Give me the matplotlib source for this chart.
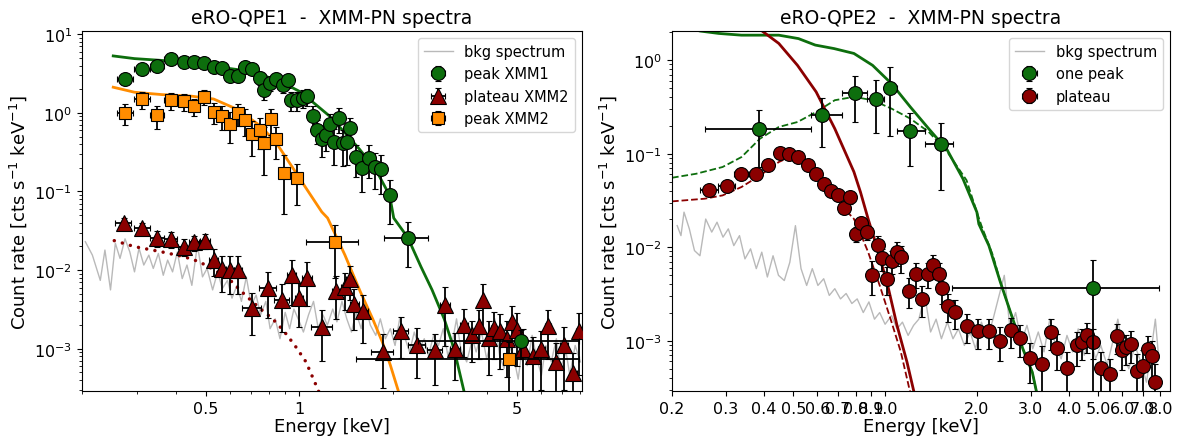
import matplotlib
matplotlib.use("Agg")
import matplotlib.pyplot as plt
from matplotlib.ticker import NullFormatter, FixedLocator, FixedFormatter

# ---------------- eRO-QPE1 (left panel) ----------------
# peak XMM1
e_pk1 = [0.275, 0.312, 0.348, 0.386, 0.424, 0.457, 0.493, 0.530, 0.565, 0.599, 0.634, 0.670,
         0.705, 0.746, 0.772, 0.806, 0.841, 0.885, 0.920, 0.942, 0.982, 1.025, 1.054, 1.109,
         1.141, 1.181, 1.222, 1.257, 1.294, 1.337, 1.380, 1.420, 1.449, 1.515, 1.589, 1.668,
         1.755, 1.833, 1.950, 2.23, 5.15]
r_pk1 = [2.70, 3.61, 3.98, 4.83, 4.43, 4.43, 4.30, 3.83, 3.72, 2.98, 2.98, 3.83,
         3.65, 2.78, 1.94, 2.40, 2.73, 2.29, 2.60, 1.45, 1.45, 1.56, 1.63, 0.91,
         0.607, 0.472, 0.525, 0.716, 0.42, 0.853, 0.412, 0.42, 0.65, 0.272, 0.199, 0.269,
         0.207, 0.193, 0.089, 0.0259, 1.24e-3]
dr_pk1 = [0.3, 0.35, 0.4, 0.45, 0.4, 0.4, 0.4, 0.4, 0.4, 0.4, 0.4, 0.5,
          0.5, 0.5, 0.5, 0.5, 0.5, 0.5, 0.5, 0.4, 0.4, 0.4, 0.4, 0.3,
          0.2, 0.2, 0.2, 0.25, 0.2, 0.3, 0.2, 0.2, 0.22, 0.12, 0.1, 0.12,
          0.1, 0.1, 0.05, 0.015, 5e-4]
de_pk1 = [0.016, 0.018, 0.018, 0.019, 0.018, 0.017, 0.018, 0.018, 0.017, 0.017, 0.018, 0.018,
          0.017, 0.016, 0.014, 0.017, 0.018, 0.018, 0.016, 0.014, 0.02, 0.02, 0.018, 0.022,
          0.018, 0.02, 0.02, 0.02, 0.02, 0.022, 0.022, 0.02, 0.02, 0.035, 0.04, 0.04,
          0.045, 0.04, 0.06, 0.36, 2.75]

# plateau XMM2
e_pl2 = [0.272, 0.312, 0.348, 0.386, 0.424, 0.457, 0.498, 0.530, 0.563, 0.599, 0.636, 0.705,
         0.79, 0.878, 0.944, 0.999, 1.056, 1.18, 1.31, 1.40, 1.449, 1.50, 1.60, 1.85,
         2.12, 2.38, 2.72, 2.94, 3.16, 3.38, 3.58, 3.77, 3.90, 4.06, 4.22, 4.42,
         4.66, 4.83, 5.02, 5.22, 5.62, 6.0, 6.3, 6.66, 7.1, 7.6, 7.9]
r_pl2 = [0.0394, 0.034, 0.0259, 0.0249, 0.0199, 0.0225, 0.0234, 0.0134, 0.0103, 0.0100, 0.0100, 3.3e-3,
         5.94e-3, 4.14e-3, 8.6e-3, 4.4e-3, 8.0e-3, 1.89e-3, 5.4e-3, 6.1e-3, 7.7e-3, 3.75e-3, 3.0e-3, 9.2e-4,
         1.66e-3, 1.12e-3, 9.5e-4, 3.57e-3, 1.0e-3, 1.98e-3, 1.48e-3, 1.95e-3, 4.14e-3, 1.37e-3, 1.84e-3, 1.66e-3,
         1.34e-3, 2.19e-3, 1.71e-3, 1.0e-3, 8.2e-4, 1.0e-3, 1.95e-3, 6.7e-4, 1.1e-3, 4.9e-4, 1.66e-3]
dr_pl2 = [0.006, 0.006, 0.006, 0.006, 0.005, 0.005, 0.005, 0.005, 0.005, 0.005, 0.005, 1.8e-3,
          3.5e-3, 2.5e-3, 5e-3, 2.5e-3, 4.5e-3, 1.2e-3, 3e-3, 3e-3, 3.5e-3, 2e-3, 1.8e-3, 6e-4,
          9e-4, 7e-4, 6e-4, 2.5e-3, 6e-4, 1.2e-3, 8e-4, 1.2e-3, 2.5e-3, 9e-4, 1.1e-3, 1.1e-3,
          9e-4, 1.3e-3, 1.1e-3, 8e-4, 6e-4, 7e-4, 1.2e-3, 5e-4, 8e-4, 4e-4, 1.2e-3]
de_pl2 = [0.016, 0.018, 0.018, 0.019, 0.018, 0.017, 0.018, 0.018, 0.017, 0.017, 0.018, 0.05,
          0.05, 0.05, 0.03, 0.03, 0.04, 0.09, 0.04, 0.04, 0.04, 0.05, 0.06, 0.15,
          0.12, 0.15, 0.15, 0.1, 0.12, 0.1, 0.1, 0.06, 0.06, 0.07, 0.08, 0.1,
          0.08, 0.08, 0.08, 0.1, 0.15, 0.15, 0.15, 0.18, 0.2, 0.2, 0.15]

# peak XMM2
e_pk2 = [0.275, 0.312, 0.348, 0.386, 0.424, 0.457, 0.493, 0.530, 0.565, 0.599, 0.634, 0.670,
         0.705, 0.746, 0.772, 0.813, 0.841, 0.893, 0.982, 1.297, 4.72]
r_pk2 = [1.0, 1.48, 0.93, 1.45, 1.41, 1.22, 1.60, 1.03, 0.91, 0.716, 0.99, 0.81,
         0.535, 0.60, 0.41, 0.83, 0.46, 0.172, 0.147, 0.023, 7.3e-4]
dr_pk2 = [0.3, 0.35, 0.3, 0.35, 0.35, 0.3, 0.35, 0.3, 0.3, 0.3, 0.3, 0.3,
          0.25, 0.25, 0.25, 0.3, 0.2, 0.12, 0.08, 0.015, 5e-4]
de_pk2 = [0.016, 0.018, 0.018, 0.019, 0.018, 0.017, 0.018, 0.018, 0.017, 0.017, 0.018, 0.018,
          0.017, 0.016, 0.014, 0.017, 0.018, 0.025, 0.03, 0.25, 3.2]

# models
m_pk1_e = [0.252, 0.295, 0.36, 0.451, 0.53, 0.634, 0.75, 0.865, 1.0, 1.112, 1.25, 1.40, 1.56,
           1.76, 1.95, 2.01, 2.23, 2.46, 2.67, 2.92, 3.14, 3.38, 3.5]
m_pk1_r = [5.3, 4.9, 4.65, 4.3, 3.9, 3.55, 3.07, 2.52, 1.88, 1.34, 0.91, 0.56, 0.345,
           0.19, 0.089, 0.046, 0.026, 0.011, 5.6e-3, 2.4e-3, 1.0e-3, 2.9e-4, 1.6e-4]
m_pk2_e = [0.252, 0.295, 0.36, 0.451, 0.53, 0.634, 0.75, 0.841, 0.942, 1.054, 1.18, 1.232,
           1.40, 1.57, 1.72, 1.85, 1.96, 2.08, 2.15]
m_pk2_r = [2.12, 1.83, 1.71, 1.63, 1.5, 1.1, 0.68, 0.42, 0.213, 0.108, 0.055, 0.046,
           0.0156, 5.3e-3, 2.4e-3, 1.2e-3, 6.2e-4, 2.9e-4, 1.9e-4]
m_pl2_e = [0.254, 0.295, 0.36, 0.426, 0.476, 0.534, 0.598, 0.670, 0.75, 0.82, 0.889, 0.967,
           1.05, 1.15, 1.18]
m_pl2_r = [0.0237, 0.0199, 0.0171, 0.0148, 0.0128, 0.0100, 7.5e-3, 4.8e-3, 3.2e-3, 2.4e-3, 1.7e-3, 1.1e-3,
           6.8e-4, 2.95e-4, 2.2e-4]

# background
bkg1_e = [0.205, 0.216, 0.229, 0.237, 0.247, 0.256, 0.265, 0.275, 0.285, 0.295, 0.305, 0.316,
          0.328, 0.339, 0.352, 0.365, 0.377, 0.391, 0.405, 0.42, 0.435, 0.451, 0.47, 0.488,
          0.505, 0.526, 0.546, 0.565, 0.587, 0.607, 0.63, 0.651, 0.675, 0.70, 0.726, 0.75,
          0.78, 0.805, 0.836, 0.866, 0.90, 0.93, 0.96, 1.0, 1.03, 1.07, 1.11, 1.15,
          1.19, 1.23, 1.28, 1.32, 1.37, 1.42, 1.47, 1.52, 1.58, 1.63, 1.69, 1.76,
          1.82, 1.89, 1.96, 2.03, 2.1, 2.17, 2.26, 2.34, 2.43, 2.52, 2.6, 2.7,
          2.8, 2.9, 3.0, 3.1, 3.2, 3.3, 3.45, 3.6, 3.7, 3.85, 4.0, 4.1,
          4.25, 4.4, 4.55, 4.7, 4.9, 5.05, 5.2, 5.4, 5.6, 5.8, 6.0, 6.2,
          6.45, 6.7, 6.9, 7.2, 7.4, 7.7, 8.0]
bkg1_r = [0.023, 0.0155, 7.4e-3, 0.018, 5.6e-3, 0.022, 0.0141, 0.025, 0.017, 9.5e-3, 0.019, 0.0116,
          0.0155, 0.0105, 0.0163, 8.6e-3, 0.0134, 9.5e-3, 0.017, 7.8e-3, 0.0116, 6.4e-3, 0.021, 8.2e-3,
          0.0105, 5.6e-3, 9.5e-3, 5.8e-3, 7.4e-3, 4.4e-3, 6.4e-3, 4.0e-3, 8.2e-3, 3.6e-3, 4.8e-3, 2.7e-3,
          4.0e-3, 1.8e-3, 2.4e-3, 1.34e-3, 2.9e-3, 1.8e-3, 3.2e-3, 2.2e-3, 1.63e-3, 2.7e-3, 4.0e-3, 1.8e-3,
          2.7e-3, 2.0e-3, 3.2e-3, 2.2e-3, 4.0e-3, 2.4e-3, 1.63e-3, 2.9e-3, 1.8e-3, 3.6e-3, 2.0e-3, 1.48e-3,
          2.4e-3, 1.34e-3, 1.8e-3, 1.1e-3, 2.4e-3, 1.48e-3, 9.1e-4, 1.63e-3, 1.0e-3, 1.34e-3, 8.2e-4, 1.48e-3,
          1.1e-3, 1.8e-3, 8.2e-4, 1.2e-3, 2.4e-3, 1.0e-3, 6.8e-4, 1.34e-3, 9.1e-4, 1.63e-3, 7.4e-4, 1.1e-3,
          2.4e-3, 8.2e-4, 5.6e-4, 1.2e-3, 7.4e-4, 4.1e-4, 1.0e-3, 6.1e-4, 1.48e-3, 7.4e-4, 4.6e-4, 1.1e-3,
          6.8e-4, 1.34e-3, 5.6e-4, 9.1e-4, 4.6e-4, 1.1e-3, 6.8e-4]

# ---------------- eRO-QPE2 (right panel) ----------------
# one peak
e_one = [0.386, 0.623, 0.798, 0.936, 1.039, 1.21, 1.52, 4.82]
r_one = [0.182, 0.257, 0.45, 0.388, 0.505, 0.173, 0.126, 3.68e-3]
dr_one = [0.11, 0.14, 0.23, 0.22, 0.35, 0.1, 0.085, 3.7e-3]
de_one_lo = [0.13, 0.052, 0.074, 0.061, 0.049, 0.116, 0.165, 3.16]
de_one_hi = [0.185, 0.10, 0.077, 0.054, 0.055, 0.145, 0.15, 3.1]

# plateau
e_plat = [0.265, 0.303, 0.338, 0.376, 0.414, 0.451, 0.485, 0.519, 0.558, 0.595,
          0.630, 0.664, 0.700, 0.733, 0.768, 0.800, 0.831, 0.874, 0.906, 0.951,
          0.980, 1.018, 1.050, 1.094, 1.130, 1.199, 1.263, 1.320, 1.380, 1.440,
          1.500, 1.540, 1.610, 1.690, 1.850, 2.020, 2.190, 2.390, 2.580, 2.760,
          2.990, 3.280, 3.500, 3.670, 3.960, 4.250, 4.440, 4.600, 4.790, 5.100,
          5.480, 5.770, 5.970, 6.180, 6.400, 6.700, 7.000, 7.300, 7.500, 7.700]
r_plat = [0.0405, 0.0451, 0.061, 0.061, 0.075, 0.1025, 0.100, 0.092, 0.075, 0.060,
          0.0477, 0.0395, 0.0364, 0.0264, 0.0343, 0.0139, 0.0182, 0.0144, 5.07e-3, 0.0106,
          7.6e-3, 4.6e-3, 7.2e-3, 8.85e-3, 7.8e-3, 3.44e-3, 5.2e-3, 2.8e-3, 5.2e-3, 6.4e-3,
          5.2e-3, 3.65e-3, 2.38e-3, 2.02e-3, 1.44e-3, 1.26e-3, 1.26e-3, 1.0e-3, 1.29e-3, 1.07e-3,
          6.5e-4, 5.7e-4, 1.24e-3, 8.4e-4, 5.1e-4, 8.9e-4, 9.7e-4, 1.14e-3, 9.8e-4, 5.1e-4,
          4.4e-4, 1.12e-3, 7.9e-4, 8.5e-4, 9.3e-4, 4.7e-4, 5.4e-4, 8.2e-4, 6.9e-4, 3.6e-4]
dr_plat = [0.004, 0.004, 0.005, 0.005, 0.006, 0.008, 0.008, 0.008, 0.007, 0.006,
           0.005, 0.005, 0.005, 0.004, 0.005, 2.5e-3, 3e-3, 2.5e-3, 2e-3, 2.5e-3,
           2e-3, 1.5e-3, 2e-3, 2.5e-3, 2.5e-3, 1.2e-3, 1.5e-3, 1e-3, 1.5e-3, 1.8e-3,
           1.5e-3, 1.2e-3, 8e-4, 7e-4, 5e-4, 4.5e-4, 4.5e-4, 4e-4, 4.5e-4, 4e-4,
           3e-4, 3e-4, 4.5e-4, 3.5e-4, 2.5e-4, 3.5e-4, 3.5e-4, 4e-4, 3.5e-4, 2.5e-4,
           2e-4, 4e-4, 3e-4, 3e-4, 3.5e-4, 2.5e-4, 2.5e-4, 3e-4, 3e-4, 2e-4]
de_plat = [0.018, 0.019, 0.018, 0.019, 0.019, 0.018, 0.017, 0.018, 0.019, 0.018,
           0.017, 0.017, 0.017, 0.016, 0.017, 0.016, 0.016, 0.02, 0.016, 0.02,
           0.015, 0.018, 0.016, 0.02, 0.018, 0.03, 0.03, 0.03, 0.03, 0.03,
           0.02, 0.025, 0.035, 0.04, 0.08, 0.08, 0.08, 0.1, 0.09, 0.09,
           0.12, 0.12, 0.1, 0.08, 0.14, 0.1, 0.08, 0.08, 0.1, 0.15,
           0.15, 0.12, 0.1, 0.1, 0.12, 0.15, 0.15, 0.12, 0.1, 0.12]

# models
m_one_e = [0.2, 0.247, 0.285, 0.338, 0.389, 0.448, 0.52, 0.59, 0.68, 0.79, 0.91, 1.05, 1.21,
           1.39, 1.6, 1.8, 2.0, 2.03, 2.19, 2.39, 2.6, 2.83, 3.04, 3.13, 3.2]
m_one_r = [2.5, 2.05, 1.93, 1.85, 1.85, 1.85, 1.7, 1.45, 1.33, 1.18, 0.88, 0.56, 0.316,
           0.185, 0.109, 0.054, 0.0237, 0.0177, 0.0104, 4.2e-3, 1.86e-3, 8.2e-4, 4.6e-4, 2.95e-4, 2.2e-4]
m_one_c_e = [0.2, 0.24, 0.293, 0.338, 0.389, 0.448, 0.516, 0.594, 0.684, 0.79, 0.91, 1.05, 1.21,
             1.39, 1.6, 1.85, 2.0, 2.07, 2.26, 2.39, 2.6, 2.83, 3.04, 3.13, 3.2]
m_one_c_r = [0.0553, 0.061, 0.072, 0.092, 0.145, 0.193, 0.218, 0.279, 0.373, 0.405, 0.373, 0.303, 0.237,
             0.171, 0.104, 0.052, 0.0237, 0.017, 8.1e-3, 4.2e-3, 1.86e-3, 8.2e-4, 4.6e-4, 2.95e-4, 2.2e-4]
m_plat_e = [0.395, 0.448, 0.516, 0.594, 0.684, 0.79, 0.83, 0.88, 0.936, 1.02, 1.094, 1.18, 1.24, 1.27]
m_plat_r = [2.05, 1.51, 0.88, 0.458, 0.185, 0.064, 0.039, 0.02, 0.0104, 3.9e-3, 1.46e-3, 5.9e-4, 2.95e-4, 2.2e-4]
m_plat_c_e = [0.2, 0.256, 0.293, 0.338, 0.389, 0.448, 0.486, 0.52, 0.594, 0.684, 0.79, 0.81,
              0.88, 0.96, 1.05, 1.126, 1.2, 1.23]
m_plat_c_r = [0.0309, 0.033, 0.0358, 0.044, 0.0586, 0.0814, 0.092, 0.094, 0.0586, 0.033, 0.0201, 0.017,
              8.85e-3, 3.9e-3, 1.58e-3, 7.6e-4, 3.1e-4, 2.3e-4]

bkg2_e = [0.208, 0.214, 0.219, 0.228, 0.237, 0.247, 0.258, 0.27, 0.281, 0.294, 0.306, 0.319,
          0.333, 0.347, 0.362, 0.378, 0.394, 0.411, 0.429, 0.447, 0.467, 0.487, 0.508, 0.53,
          0.553, 0.577, 0.602, 0.629, 0.656, 0.684, 0.714, 0.745, 0.778, 0.81, 0.848, 0.885,
          0.923, 0.96, 1.0, 1.05, 1.094, 1.14, 1.19, 1.24, 1.29, 1.35, 1.41, 1.47,
          1.53, 1.6, 1.67, 1.74, 1.82, 1.9, 1.98, 2.07, 2.16, 2.26, 2.35, 2.46,
          2.57, 2.68, 2.8, 2.92, 3.05, 3.18, 3.32, 3.47, 3.62, 3.78, 3.95, 4.12,
          4.3, 4.5, 4.7, 4.9, 5.1, 5.35, 5.58, 5.8, 6.06, 6.3, 6.6, 6.9,
          7.2, 7.5, 7.7, 7.9]
bkg2_r = [0.017, 0.0133, 0.0237, 0.0157, 9.2e-3, 8.1e-3, 0.02, 0.0145, 0.0185, 0.0128, 0.0157, 0.0104,
          0.0133, 7.5e-3, 9.6e-3, 5.9e-3, 8.85e-3, 4.8e-3, 8.1e-3, 5.0e-3, 4.4e-3, 6.9e-3, 0.017, 5.9e-3,
          3.9e-3, 5.9e-3, 3.9e-3, 4.6e-3, 3.05e-3, 3.6e-3, 2.8e-3, 3.2e-3, 2.5e-3, 2.8e-3, 2.0e-3, 2.6e-3,
          1.7e-3, 2.0e-3, 1.5e-3, 1.86e-3, 1.34e-3, 1.58e-3, 1.14e-3, 1.46e-3, 1.7e-3, 3.05e-3, 1.24e-3, 1.7e-3,
          1.05e-3, 1.58e-3, 1.05e-3, 1.34e-3, 8.9e-4, 1.24e-3, 8.2e-4, 1.58e-3, 1.05e-3, 1.7e-3, 2.8e-3, 5.0e-3,
          1.34e-3, 2.0e-3, 9.7e-4, 1.46e-3, 8.2e-4, 1.24e-3, 7.6e-4, 1.7e-3, 8.9e-4, 6.4e-4, 1.14e-3, 7.6e-4,
          1.34e-3, 7.0e-4, 1.14e-3, 6.4e-4, 8.9e-4, 5.5e-4, 9.7e-4, 1.7e-3, 7.0e-4, 5.0e-4, 8.9e-4, 5.9e-4,
          3.6e-4, 8.9e-4, 1.7e-3, 6.4e-4]

# ---------------- styling ----------------
GREEN = '#0d6e0d'
RED = '#8b0000'
ORANGE = '#ff8c00'
eb_kw = dict(ls='none', ecolor='black', elinewidth=1.3, capsize=2, capthick=1.2,
             markeredgecolor='black', markeredgewidth=0.8)

fig = plt.figure(figsize=(11.8, 4.39), dpi=100)
ax1 = fig.add_axes([82 / 1180, 1 - 392 / 439, 500 / 1180, 360 / 439])
ax2 = fig.add_axes([672 / 1180, 1 - 392 / 439, 498 / 1180, 360 / 439])

# left panel
ax1.plot(bkg1_e, bkg1_r, color='gray', alpha=0.55, lw=1, label='bkg spectrum', zorder=1)
ax1.plot(m_pk1_e, m_pk1_r, color=GREEN, lw=2, zorder=2)
ax1.plot(m_pk2_e, m_pk2_r, color=ORANGE, lw=2, zorder=2)
ax1.plot(m_pl2_e, m_pl2_r, color=RED, lw=2.5, ls=(0, (0.01, 2.4)), dash_capstyle='round', zorder=2)
ax1.errorbar(e_pk1, r_pk1, yerr=dr_pk1, xerr=de_pk1, marker='o', ms=10, color=GREEN,
             label='peak XMM1', zorder=4, **eb_kw)
ax1.errorbar(e_pl2, r_pl2, yerr=dr_pl2, xerr=de_pl2, marker='^', ms=11, color=RED,
             label='plateau XMM2', zorder=3, **eb_kw)
ax1.errorbar(e_pk2, r_pk2, yerr=dr_pk2, xerr=de_pk2, marker='s', ms=9, color=ORANGE,
             label='peak XMM2', zorder=4, **eb_kw)
ax1.set_xscale('log')
ax1.set_yscale('log')
ax1.set_xlim(0.2, 8.1)
ax1.set_ylim(2.9e-4, 11)
ax1.xaxis.set_major_locator(FixedLocator([0.5, 1, 5]))
ax1.xaxis.set_major_formatter(FixedFormatter(['0.5', '1', '5']))
ax1.xaxis.set_minor_formatter(NullFormatter())
ax1.set_title('eRO-QPE1  -  XMM-PN spectra', fontsize=13.5)
ax1.legend(loc='upper right', fontsize=10.5)

# right panel
ax2.plot(bkg2_e, bkg2_r, color='gray', alpha=0.55, lw=1, label='bkg spectrum', zorder=1)
ax2.plot(m_one_e, m_one_r, color=GREEN, lw=2, zorder=2)
ax2.plot(m_one_c_e, m_one_c_r, color=GREEN, lw=1.3, ls='--', zorder=2)
ax2.plot(m_plat_e, m_plat_r, color=RED, lw=2, zorder=2)
ax2.plot(m_plat_c_e, m_plat_c_r, color=RED, lw=1.3, ls='--', zorder=2)
ax2.errorbar(e_one, r_one, yerr=dr_one, xerr=[de_one_lo, de_one_hi], marker='o', ms=10,
             color=GREEN, label='one peak', zorder=4, **eb_kw)
ax2.errorbar(e_plat, r_plat, yerr=dr_plat, xerr=de_plat, marker='o', ms=10, color=RED,
             label='plateau', zorder=3, **eb_kw)
ax2.set_xscale('log')
ax2.set_yscale('log')
ax2.set_xlim(0.2, 8.6)
ax2.set_ylim(2.9e-4, 2.05)
xt = [0.2, 0.3, 0.4, 0.5, 0.6, 0.7, 0.8, 0.9, 1.0, 2.0, 3.0, 4.0, 5.0, 6.0, 7.0, 8.0]
ax2.xaxis.set_major_locator(FixedLocator(xt))
ax2.xaxis.set_major_formatter(FixedFormatter(['%.1f' % v for v in xt]))
ax2.xaxis.set_minor_formatter(NullFormatter())
ax2.set_title('eRO-QPE2  -  XMM-PN spectra', fontsize=13.5)
ax2.legend(loc='upper right', fontsize=10.5)

for ax in (ax1, ax2):
    ax.set_xlabel('Energy [keV]', fontsize=13, labelpad=1)
    ax.set_ylabel('Count rate [cts s$^{-1}$ keV$^{-1}$]', fontsize=13)
    ax.tick_params(labelsize=11.5)

fig.savefig('out.png', dpi=100)
